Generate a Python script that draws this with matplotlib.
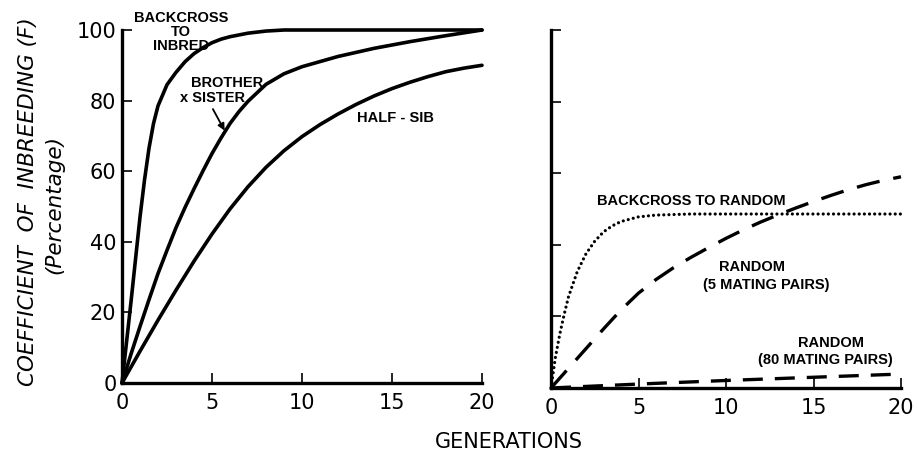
import matplotlib
matplotlib.use("Agg")
import matplotlib.pyplot as plt

# ---- data ----
t_bc_inbred = [0, 0.25, 0.5, 0.75, 1, 1.25, 1.5, 1.75, 2, 2.5, 3, 3.5, 4, 4.5, 5, 5.5, 6, 7, 8, 9, 20]
f_bc_inbred = [0, 11.5, 23, 35, 47, 57.5, 66.5, 73.5, 78.5, 84.5, 88, 91, 93.3, 95, 96.4, 97.4, 98.1, 99.1, 99.7, 100, 100]

t_bro_sis = [0, 0.5, 1, 1.5, 2, 2.5, 3, 3.5, 4, 4.5, 5, 5.5, 6, 6.5, 7, 8, 9, 10, 12, 14, 16, 18, 20]
f_bro_sis = [0, 8.2, 16, 23.6, 31, 37.6, 44, 49.7, 55, 60.1, 65, 69.4, 73.5, 76.9, 79.8, 84.6, 87.6, 89.6, 92.5, 94.8, 96.7, 98.4, 100]

t_half_sib = [0, 1, 2, 3, 4, 5, 6, 7, 8, 9, 10, 11, 12, 13, 14, 15, 16, 17, 18, 19, 20]
f_half_sib = [0, 9, 17.8, 26.3, 34.5, 42.2, 49.3, 55.6, 61.1, 65.8, 69.8, 73.2, 76.2, 78.9, 81.3, 83.4, 85.2, 86.8, 88.2, 89.2, 90]

t_bc_random = [0, 0.25, 0.5, 0.75, 1, 1.5, 2, 2.5, 3, 3.5, 4, 5, 6, 8, 20]
f_bc_random = [0, 8.5, 15, 20.5, 25.5, 32.5, 37.5, 41, 43.6, 45.3, 46.5, 47.8, 48.3, 48.6, 48.6]

t_rand5 = [0, 1, 2, 3, 4, 5, 6, 7, 8, 9, 10, 11, 12, 13, 14, 15, 16, 17, 18, 19, 20]
f_rand5 = [0, 5.5, 11, 16.5, 21.8, 26.5, 30.3, 33.6, 36.5, 39.2, 41.8, 44.2, 46.4, 48.4, 50.3, 52.1, 53.8, 55.4, 56.8, 58, 59]

t_rand80 = [0, 5, 10, 15, 20]
f_rand80 = [0, 1.1, 2.1, 3.0, 3.9]

x_ticks = [0, 5, 10, 15, 20]
x_tick_labels = ["0", "5", "10", "15", "20"]
y_ticks = [0, 20, 40, 60, 80, 100]
y_tick_labels = ["0", "20", "40", "60", "80", "100"]

W, H = 918, 451
fig = plt.figure(figsize=(W / 100, H / 100), dpi=100)

def px_axes(x0, x1, ytop, ybot):
    return fig.add_axes([x0 / W, 1 - ybot / H, (x1 - x0) / W, (ybot - ytop) / H])

axL = px_axes(122, 482, 30, 383)
axR = px_axes(551, 901, 30, 388)

lw = 2.6
tick_font = dict(family="DejaVu Sans", size=15)
for ax in (axL, axR):
    ax.set_xlim(0, 20)
    ax.set_ylim(0, 100)
    for s in ("top", "right"):
        ax.spines[s].set_visible(False)
    for s in ("left", "bottom"):
        ax.spines[s].set_linewidth(2.4)
        ax.spines[s].set_color("black")
    ax.set_xticks(x_ticks)
    ax.set_xticklabels(x_tick_labels, **tick_font)
    ax.set_yticks(y_ticks)
    ax.tick_params(axis="both", direction="in", length=7, width=1.2, color="black")
    ax.tick_params(axis="x", pad=7)
    ax.tick_params(axis="y", pad=4)
    ax.patch.set_alpha(0)

axL.set_yticklabels(y_tick_labels, **tick_font)
axR.set_yticklabels([])

# Left panel curves
for tt, ff in ((t_bc_inbred, f_bc_inbred), (t_bro_sis, f_bro_sis), (t_half_sib, f_half_sib)):
    axL.plot(tt, ff, color="black", lw=lw, solid_joinstyle="round",
             solid_capstyle="round", clip_on=False)

ann = dict(family="Liberation Sans", weight="bold", size=10.5, color="black")
axL.text(3.28, 99.4, "BACKCROSS\nTO\nINBRED", ha="center", va="center",
         multialignment="center", linespacing=1.0, **ann)
axL.text(5.83, 85.0, "BROTHER", ha="center", va="center", **ann)
axL.text(5.0, 80.7, "x SISTER", ha="center", va="center", **ann)
axL.annotate("", xy=(5.7, 71.5), xytext=(5.05, 77.6),
             arrowprops=dict(arrowstyle="-|>", color="black", lw=1.3,
                             mutation_scale=10, shrinkA=0, shrinkB=0))
axL.text(15.2, 75.1, "HALF - SIB", ha="center", va="center", **ann)

# Right panel curves
axR.plot(t_bc_random, f_bc_random, color="black", lw=2.3,
         linestyle=(0, (0.01, 1.6)), dash_capstyle="round", clip_on=False)
axR.plot(t_rand5, f_rand5, color="black", lw=2.4, linestyle=(0, (7.0, 4.2)), clip_on=False)
axR.plot(t_rand80, f_rand80, color="black", lw=2.4, linestyle=(0, (6.0, 3.6)), clip_on=False)

axR.text(8.0, 52.2, "BACKCROSS TO RANDOM", ha="center", va="center", **ann)
axR.text(11.5, 33.8, "RANDOM", ha="center", va="center", **ann)
axR.text(12.3, 28.8, "(5 MATING PAIRS)", ha="center", va="center", **ann)
axR.text(16.0, 12.6, "RANDOM", ha="center", va="center", **ann)
axR.text(15.7, 7.8, "(80 MATING PAIRS)", ha="center", va="center", **ann)

# Axis titles
fig.text(28 / W, 1 - 202 / H, "COEFFICIENT  OF  INBREEDING (F)", rotation=90,
         ha="center", va="center", family="DejaVu Sans", style="italic", size=15.5)
fig.text(54 / W, 1 - 205 / H, "(Percentage)", rotation=90,
         ha="center", va="center", family="DejaVu Sans", style="italic", size=15.5)
fig.text(509 / W, 1 - 442 / H, "GENERATIONS", ha="center", va="center",
         family="DejaVu Sans", size=15)

fig.savefig("out.png", dpi=100)
